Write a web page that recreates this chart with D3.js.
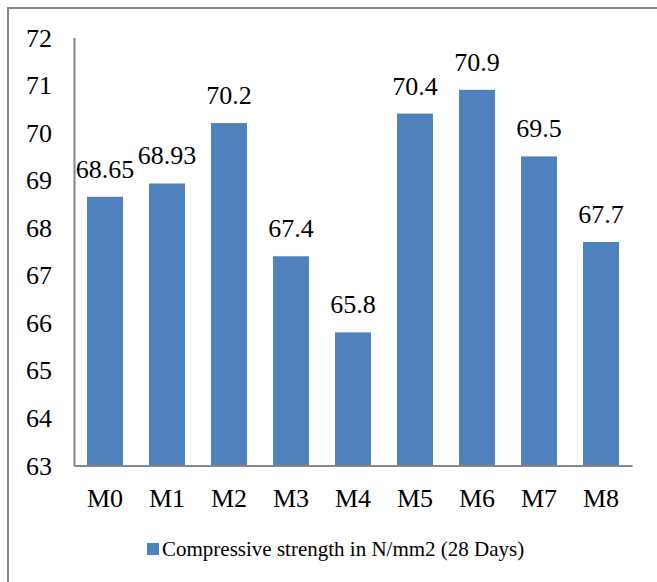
<!DOCTYPE html>
<html>
<head>
<meta charset="utf-8">
<script src="https://cdn.jsdelivr.net/npm/d3@7"></script>
<style>
  html, body { margin: 0; padding: 0; background: #fff; }
  svg { display: block; }
  svg text { font-family: "Liberation Serif", "Times New Roman", serif !important; fill: #000; }
</style>
</head>
<body>
<svg id="chart" width="657" height="582"></svg>
<script>
// Mix designations and their 28-day compressive strength (N/mm2)
const categories = ["M0", "M1", "M2", "M3", "M4", "M5", "M6", "M7", "M8"];
const strength = [68.65, 68.93, 70.2, 67.4, 65.8, 70.4, 70.9, 69.5, 67.7];
const valueLabels = ["68.65", "68.93", "70.2", "67.4", "65.8", "70.4", "70.9", "69.5", "67.7"];
const yTicks = [63, 64, 65, 66, 67, 68, 69, 70, 71, 72];
const seriesName = "Compressive strength in N/mm2 (28 Days)";

const svg = d3.select("#chart");
const barColor = "#4F81BD";
const axisColor = "#868686";
const serif = "'Liberation Serif', 'Times New Roman', serif";

// Outer chart frame (extends past the right/bottom edges)
svg.append("rect")
  .attr("x", 8).attr("y", 8)
  .attr("width", 700).attr("height", 620)
  .attr("fill", "none")
  .attr("stroke", axisColor)
  .attr("stroke-width", 2);

const plot = { left: 74, right: 632, top: 37.5, bottom: 465.5 };

const x = d3.scaleBand()
  .domain(categories)
  .range([plot.left, plot.right])
  .paddingInner(0.42)
  .paddingOuter(0.21);

const y = d3.scaleLinear()
  .domain([63, 72])
  .range([plot.bottom, plot.top]);

// Bars
svg.append("g").selectAll("rect")
  .data(categories)
  .join("rect")
  .attr("x", d => x(d))
  .attr("width", x.bandwidth())
  .attr("y", (d, i) => y(strength[i]))
  .attr("height", (d, i) => y(63) - y(strength[i]))
  .attr("fill", barColor);

// Value labels above each bar
svg.append("g").selectAll("text")
  .data(categories)
  .join("text")
  .attr("x", d => x(d) + x.bandwidth() / 2)
  .attr("y", (d, i) => y(strength[i]) - 19)
  .attr("text-anchor", "middle")
  .style("font-family", serif)
  .style("font-size", "26px")
  .text((d, i) => valueLabels[i]);

// Y axis
const yAxis = svg.append("g")
  .attr("transform", `translate(${plot.left},0)`)
  .call(d3.axisLeft(y).tickValues(yTicks).tickSize(0).tickPadding(22).tickFormat(d3.format("d")));
yAxis.attr("font-family", null);
yAxis.select(".domain").attr("stroke", axisColor).attr("stroke-width", 2);
yAxis.selectAll("text")
  .style("font-family", serif)
  .style("font-size", "26px")
  .attr("dy", "0.33em");

// X axis
const xAxis = svg.append("g")
  .attr("transform", `translate(0,${plot.bottom})`)
  .call(d3.axisBottom(x).tickSize(0).tickPadding(23));
xAxis.attr("font-family", null);
xAxis.select(".domain").attr("stroke", axisColor).attr("stroke-width", 2);
xAxis.selectAll("text")
  .style("font-family", serif)
  .style("font-size", "26px")
  .attr("dy", "0.71em");

// Legend
const legend = svg.append("g");
legend.append("rect")
  .attr("x", 147).attr("y", 543)
  .attr("width", 12).attr("height", 12)
  .attr("fill", barColor);
legend.append("text")
  .attr("x", 162).attr("y", 556)
  .style("font-family", serif)
  .style("font-size", "21px")
  .text(seriesName);
</script>
</body>
</html>
